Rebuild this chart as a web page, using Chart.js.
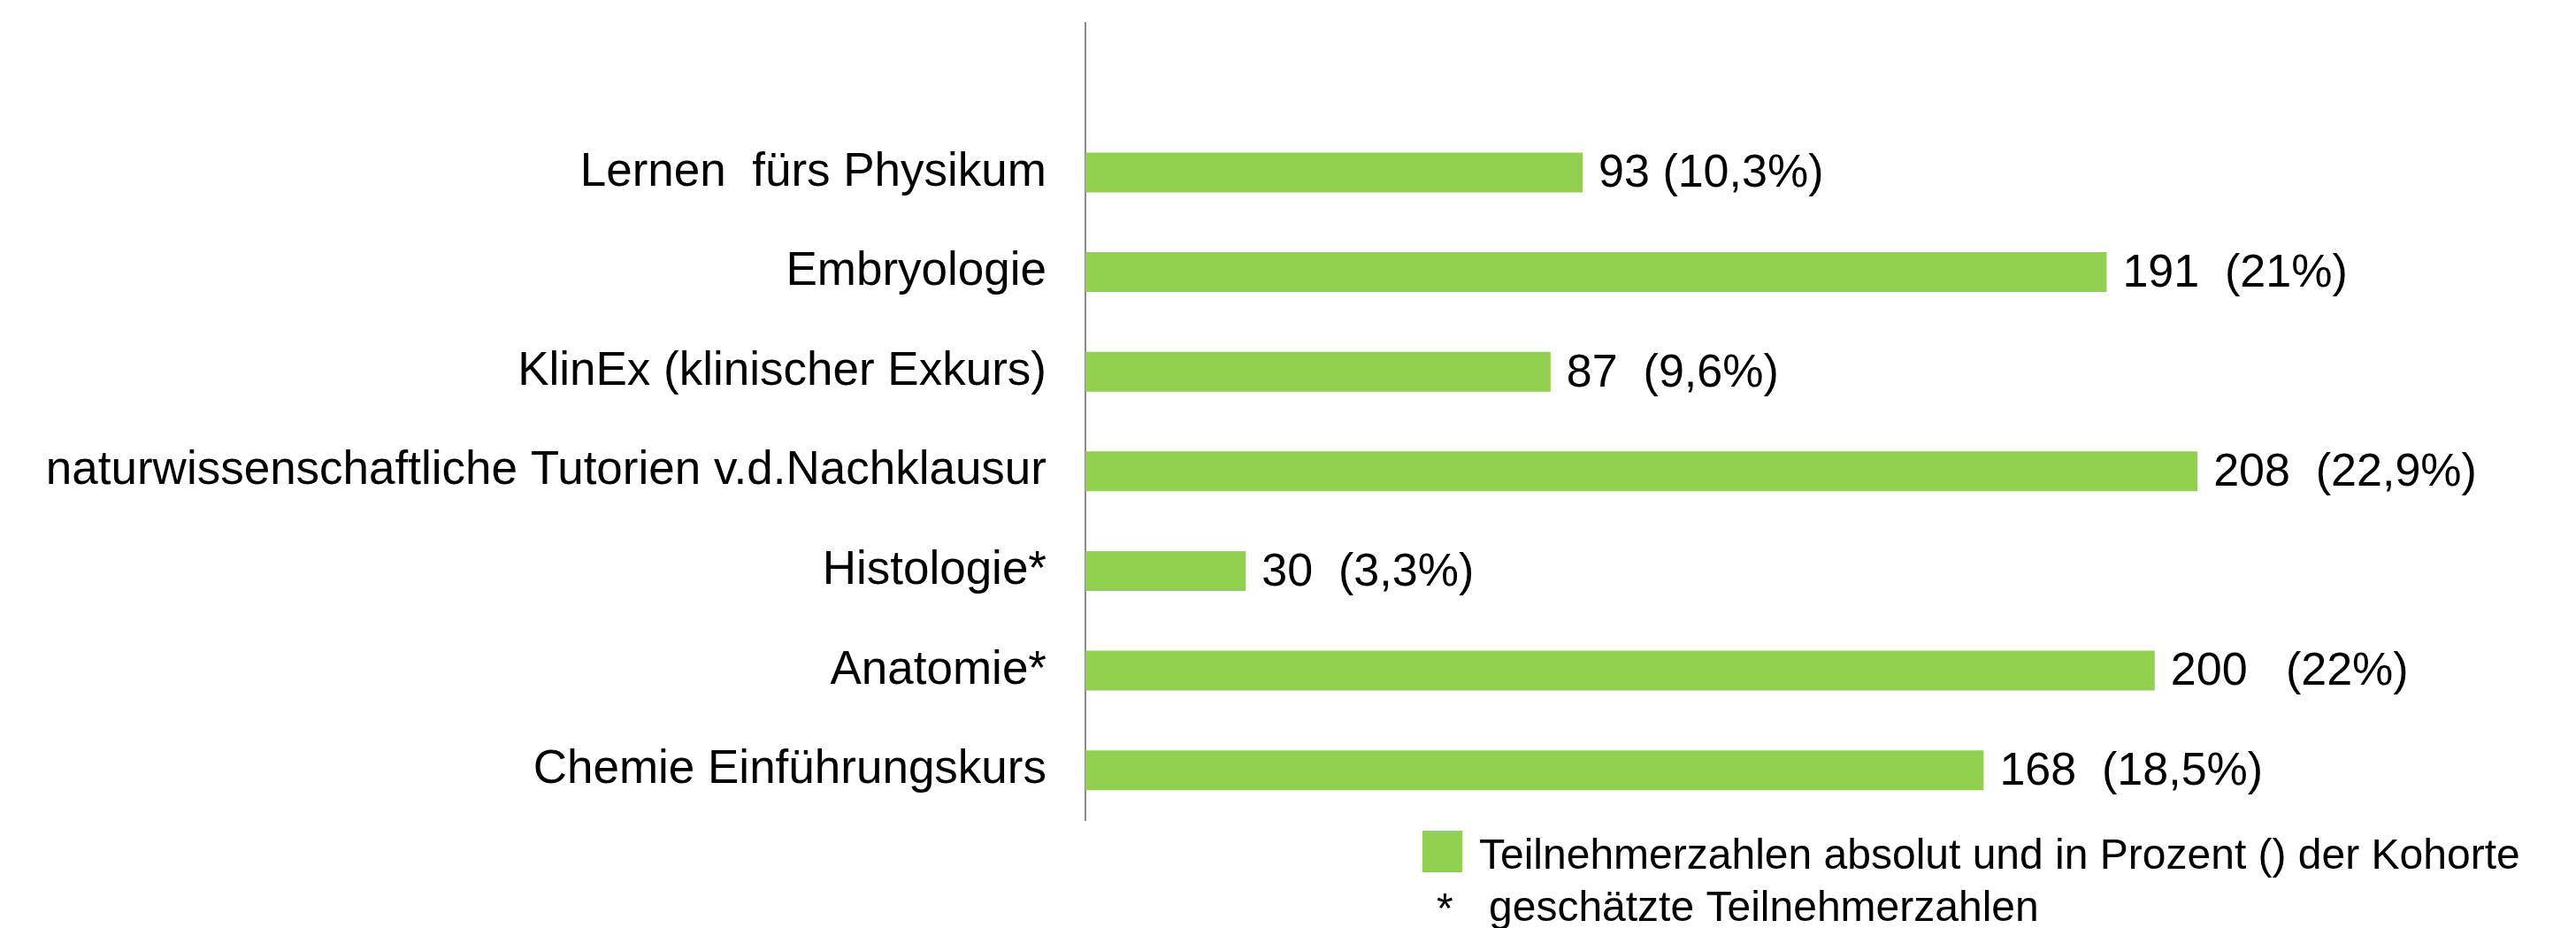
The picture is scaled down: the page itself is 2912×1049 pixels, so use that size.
<!DOCTYPE html>
<html>
<head>
<meta charset="utf-8">
<script src="https://cdn.jsdelivr.net/npm/chart.js@4/dist/chart.umd.min.js"></script>
<style>
	html, body { margin: 0; padding: 0; background: #ffffff; }
	#wrap { width: 2912px; height: 1049px; position: relative; }
</style>
</head>
<body>
<div id="wrap"><canvas id="chart"></canvas></div>
<script>
// top row stays empty, like in the original slide
const categories = ['', 'Lernen  fürs Physikum', 'Embryologie', 'KlinEx (klinischer Exkurs)',
	'naturwissenschaftliche Tutorien v.d.Nachklausur', 'Histologie*', 'Anatomie*', 'Chemie Einführungskurs'];
const participants = [null, 93, 191, 87, 208, 30, 200, 168];
const percentLabels = ['', ' (10,3%)', '  (21%)', '  (9,6%)', '  (22,9%)', '  (3,3%)', '   (22%)', '  (18,5%)'];
const legendLabel = 'Teilnehmerzahlen absolut und in Prozent () der Kohorte';
const noteLabel = 'geschätzte Teilnehmerzahlen';

const green = '#92D050';
const fontFamily = '"Liberation Sans", Arial, sans-serif';

Chart.defaults.font.family = fontFamily;
Chart.defaults.color = '#000000';

const barLabels = {
	id: 'barLabels',
	afterDatasetsDraw(chart) {
		const ctx = chart.ctx;
		const meta = chart.getDatasetMeta(0);
		ctx.save();
		ctx.font = '52px ' + fontFamily;
		ctx.fillStyle = '#000000';
		ctx.textAlign = 'left';
		ctx.textBaseline = 'middle';
		meta.data.forEach((bar, i) => {
			if (participants[i] == null) return;
			ctx.fillText(participants[i] + percentLabels[i], bar.x + 18, bar.y + 2);
		});
		ctx.restore();
	}
};

const footLegend = {
	id: 'footLegend',
	afterDraw(chart) {
		const ctx = chart.ctx;
		ctx.save();
		ctx.fillStyle = chart.data.datasets[0].backgroundColor;
		ctx.fillRect(1608, 939, 45, 47);
		ctx.fillStyle = '#000000';
		ctx.font = '48px ' + fontFamily;
		ctx.textBaseline = 'middle';
		ctx.textAlign = 'left';
		ctx.fillText(chart.data.datasets[0].label, 1672, 969);
		ctx.fillText('*', 1624, 1030);
		ctx.fillText(noteLabel, 1683, 1028);
		ctx.restore();
	}
};

new Chart(document.getElementById('chart'), {
	type: 'bar',
	data: {
		labels: categories,
		datasets: [{
			label: legendLabel,
			data: participants,
			backgroundColor: green,
			borderWidth: 0,
			categoryPercentage: 1,
			barPercentage: 0.4
		}]
	},
	options: {
		indexAxis: 'y',
		responsive: true,
		maintainAspectRatio: false,
		animation: false,
		layout: { padding: { left: 0, top: 26, right: 174, bottom: 122 } },
		plugins: {
			legend: { display: false },
			tooltip: { enabled: false }
		},
		scales: {
			x: {
				display: false,
				min: 0,
				max: 250
			},
			y: {
				afterFit(scale) {
					scale.width = 1227;
					scale.paddingTop = 0;
					scale.paddingBottom = 0;
				},
				grid: { display: false, drawTicks: false },
				border: { display: true, color: '#8c8c8c', width: 2 },
				ticks: {
					padding: 44,
					font: { size: 53 },
					color: '#000000'
				}
			}
		}
	},
	plugins: [barLabels, footLegend]
});
</script>
</body>
</html>
